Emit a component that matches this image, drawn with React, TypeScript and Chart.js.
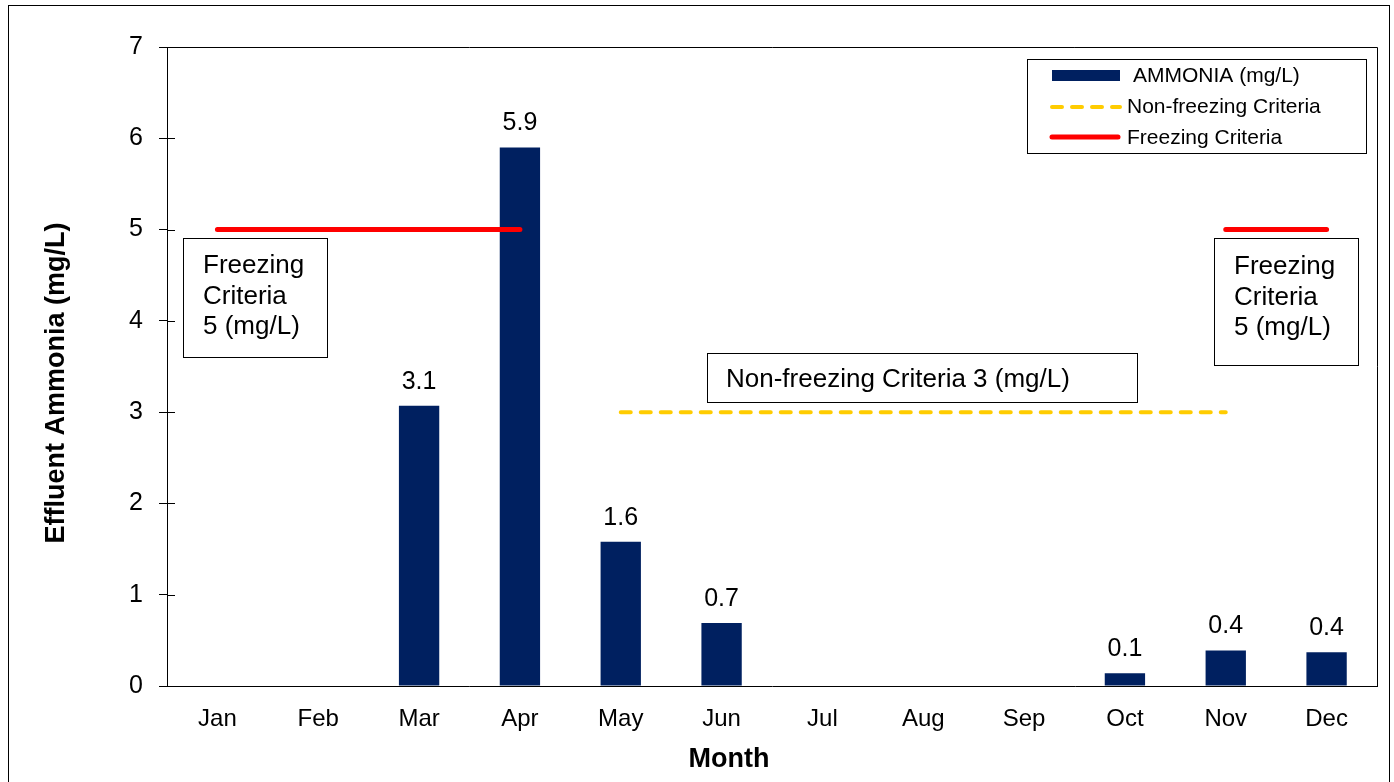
import React, { useEffect, useRef } from "react";
import { Chart, registerables } from "chart.js";

Chart.register(...registerables);

const months = ["Jan", "Feb", "Mar", "Apr", "May", "Jun", "Jul", "Aug", "Sep", "Oct", "Nov", "Dec"];
const ammonia = [null, null, 3.07, 5.9, 1.58, 0.69, null, null, null, 0.14, 0.39, 0.37];
const freezing = [5, 5, 5, 5, null, null, null, null, null, null, 5, 5];
const nonFreezing = [null, null, null, null, 3, 3, 3, 3, 3, 3, 3, null];
const yTicks = [0, 1, 2, 3, 4, 5, 6, 7];
const legendLabels = ["AMMONIA (mg/L)", "Non-freezing Criteria", "Freezing Criteria"];
const freezingNote = ["Freezing", "Criteria", "5 (mg/L)"];
const nonFreezingNote = ["Non-freezing Criteria 3 (mg/L)"];
const xTitle = "Month";
const yTitle = "Effluent Ammonia (mg/L)";

const FONT = "'Liberation Sans', Arial, sans-serif";
const NAVY = "#002060";
const YELLOW = "#FFCC00";
const RED = "#FF0000";

const decorPlugin = {
  id: "decor",
  beforeDraw(chart: any) {
    const ctx = chart.ctx;
    ctx.save();
    ctx.fillStyle = "#fff";
    ctx.fillRect(0, 0, chart.width, chart.height);
    ctx.strokeStyle = "#000";
    ctx.lineWidth = 1;
    ctx.strokeRect(8.5, 5.5, 1381, 800);
    ctx.restore();
  },
  afterDraw(chart: any) {
    const ctx = chart.ctx;
    const a = chart.chartArea;
    const yScale = chart.scales.y;
    ctx.save();
    // plot frame top and right
    ctx.strokeStyle = "#000";
    ctx.lineWidth = 1;
    ctx.beginPath();
    ctx.moveTo(a.left, a.top + 0.5);
    ctx.lineTo(a.right + 0.5, a.top + 0.5);
    ctx.lineTo(a.right + 0.5, a.bottom);
    ctx.stroke();
    // inside tick marks
    ctx.beginPath();
    yTicks.forEach((v) => {
      const y = Math.round(yScale.getPixelForValue(v)) + 0.5;
      ctx.moveTo(a.left, y);
      ctx.lineTo(a.left + 8, y);
    });
    ctx.stroke();

    // axis titles
    ctx.fillStyle = "#000";
    ctx.font = `bold 27px ${FONT}`;
    ctx.textAlign = "center";
    ctx.textBaseline = "middle";
    ctx.fillText(xTitle, 729, 760);
    ctx.save();
    ctx.translate(57, 383);
    ctx.rotate(-Math.PI / 2);
    ctx.fillText(yTitle, 0, 0);
    ctx.restore();

    // data labels
    const meta = chart.getDatasetMeta(0);
    ctx.fillStyle = "#000";
    ctx.font = `25px ${FONT}`;
    ctx.textAlign = "center";
    ctx.textBaseline = "middle";
    meta.data.forEach((bar: any, i: number) => {
      const v = ammonia[i];
      if (v == null) return;
      ctx.fillText(v.toFixed(1), bar.x, bar.y - 24);
    });

    // annotation boxes
    const drawBox = (x: number, y: number, w: number, h: number, lines: string[], tx: number, ty: number, lh: number) => {
      ctx.fillStyle = "#fff";
      ctx.fillRect(x, y, w, h);
      ctx.strokeStyle = "#000";
      ctx.lineWidth = 1;
      ctx.strokeRect(x + 0.5, y + 0.5, w, h);
      ctx.fillStyle = "#000";
      ctx.font = `26px ${FONT}`;
      ctx.textAlign = "left";
      ctx.textBaseline = "middle";
      lines.forEach((t, i) => ctx.fillText(t, tx, ty + i * lh));
    };
    drawBox(183, 238, 144, 119, freezingNote, 203, 266, 30.5);
    drawBox(1214, 238, 144, 127, freezingNote, 1234, 267, 30.5);
    drawBox(707, 353, 430, 49, nonFreezingNote, 726, 380, 30);

    // legend
    ctx.fillStyle = "#fff";
    ctx.fillRect(1027, 59, 339, 94);
    ctx.strokeStyle = "#000";
    ctx.lineWidth = 1;
    ctx.strokeRect(1027.5, 59.5, 339, 94);
    ctx.fillStyle = NAVY;
    ctx.fillRect(1052, 70, 68, 11);
    ctx.lineCap = "round";
    ctx.strokeStyle = YELLOW;
    ctx.lineWidth = 4;
    ctx.setLineDash([10, 10]);
    ctx.beginPath();
    ctx.moveTo(1052, 107);
    ctx.lineTo(1120, 107);
    ctx.stroke();
    ctx.setLineDash([]);
    ctx.strokeStyle = RED;
    ctx.lineWidth = 5;
    ctx.beginPath();
    ctx.moveTo(1052, 137);
    ctx.lineTo(1118, 137);
    ctx.stroke();
    ctx.fillStyle = "#000";
    ctx.font = `21px ${FONT}`;
    ctx.textAlign = "left";
    ctx.textBaseline = "middle";
    ctx.fillText(legendLabels[0], 1133, 76);
    ctx.fillText(legendLabels[1], 1127, 107);
    ctx.fillText(legendLabels[2], 1127, 138);
    ctx.restore();
  },
};

export default function App() {
  const ref = useRef<HTMLCanvasElement | null>(null);
  useEffect(() => {
    if (!ref.current) return;
    const chart = new Chart(ref.current, {
      type: "bar",
      data: {
        labels: months,
        datasets: [
          {
            type: "bar",
            label: legendLabels[0],
            data: ammonia as any,
            backgroundColor: NAVY,
            borderWidth: 0,
            barPercentage: 0.4,
            categoryPercentage: 1,
            order: 2,
          },
          {
            type: "line",
            label: legendLabels[1],
            data: nonFreezing as any,
            borderColor: YELLOW,
            borderWidth: 4,
            borderDash: [10, 10],
            borderCapStyle: "round",
            pointRadius: 0,
            fill: false,
            order: 1,
          },
          {
            type: "line",
            label: legendLabels[2],
            data: freezing as any,
            borderColor: RED,
            borderWidth: 5,
            borderCapStyle: "round",
            pointRadius: 0,
            fill: false,
            order: 0,
          },
        ],
      },
      options: {
        responsive: false,
        animation: false,
        layout: { padding: { left: 0, top: 47, right: 17, bottom: 0 } },
        plugins: { legend: { display: false }, tooltip: { enabled: false } },
        scales: {
          x: {
            grid: { display: false, drawTicks: false, tickLength: 0 },
            border: { display: true, color: "#000", width: 1 },
            ticks: { color: "#000", font: { family: FONT, size: 24 }, padding: 19, maxRotation: 0 },
            title: { display: false },
            afterFit: (s: any) => {
              s.height = 96;
            },
          },
          y: {
            min: 0,
            max: 7,
            ticks: { stepSize: 1, color: "#000", font: { family: FONT, size: 25 }, padding: 16 },
            grid: { drawOnChartArea: false, drawTicks: true, tickLength: 8, color: "#000" },
            border: { display: true, color: "#000", width: 1 },
            title: { display: false },
            afterFit: (s: any) => {
              s.width = 167;
            },
          },
        },
      },
      plugins: [decorPlugin],
    });
    return () => chart.destroy();
  }, []);
  return (
    <div style={{ position: "fixed", left: 0, top: 0, width: 1394, height: 782 }}>
      <canvas ref={ref} width={1394} height={782} style={{ display: "block" }} />
    </div>
  );
}
